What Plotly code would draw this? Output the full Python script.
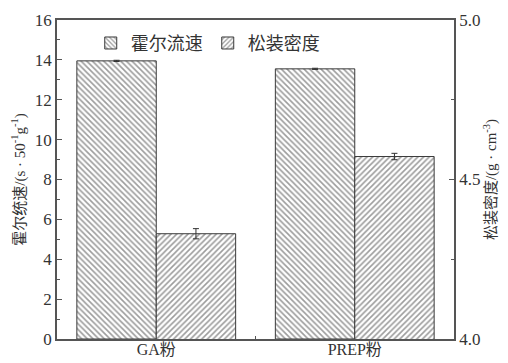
import plotly.graph_objects as go

# Powder types and measured values
powders = ["GA粉", "PREP粉"]
hall_flow = [13.95, 13.55]          # s·50^-1 g^-1
hall_flow_err = [0.03, 0.03]
apparent_density = [4.33, 4.572]     # g·cm^-3
apparent_density_err = [0.016, 0.01]

left_ticks = [0, 2, 4, 6, 8, 10, 12, 14, 16]
right_ticks = [4.0, 4.5, 5.0]

FONT = "Liberation Serif, Noto Sans CJK SC, serif"
INK = "#333333"
AXIS = "#555555"
HATCH = "#3a3a3a"

fig = go.Figure()

fig.add_trace(go.Bar(
    name="霍尔流速",
    x=powders, y=hall_flow,
    width=0.4, offset=-0.4,
    marker=dict(
        color="white",
        line=dict(color=HATCH, width=1),
        pattern=dict(shape="\\", fgcolor=HATCH, bgcolor="white",
                     size=4, solidity=0.4),
    ),
    error_y=dict(type="data", array=hall_flow_err, color=INK,
                 thickness=1, width=3),
))

fig.add_trace(go.Bar(
    name="松装密度",
    x=powders, y=apparent_density, yaxis="y2",
    width=0.4, offset=0.0,
    marker=dict(
        color="white",
        line=dict(color=HATCH, width=1),
        pattern=dict(shape="/", fgcolor=HATCH, bgcolor="white",
                     size=4, solidity=0.4),
    ),
    error_y=dict(type="data", array=apparent_density_err, color=INK,
                 thickness=1, width=3),
))

fig.update_layout(
    width=508, height=363,
    margin=dict(l=57, r=54, t=20, b=24),
    paper_bgcolor="white", plot_bgcolor="white",
    font=dict(family=FONT, size=17, color=INK),
    showlegend=True,
    legend=dict(
        orientation="h", x=0.085, y=0.985, xanchor="left", yanchor="top",
        bgcolor="rgba(0,0,0,0)", font=dict(size=18, color=INK),
        itemwidth=30, tracegroupgap=0,
    ),
    xaxis=dict(
        range=[-0.5, 1.5], automargin=False,
        showline=True, linecolor=AXIS, linewidth=1.5, mirror=True,
        ticks="inside", tickson="boundaries", ticklen=3, tickcolor=AXIS,
        showgrid=False, ticklabelstandoff=-5,
        tickfont=dict(size=16, color=INK),
    ),
    yaxis=dict(
        range=[0, 16], tickvals=left_ticks, automargin=False,
        showline=True, linecolor=AXIS, linewidth=1.5,
        ticks="inside", ticklen=5, tickcolor=AXIS,
        minor=dict(ticks="inside", ticklen=3, dtick=1, tickcolor=AXIS),
        showgrid=False, zeroline=False,
        tickfont=dict(size=17, color=INK),
        title=dict(text="霍尔统速/(s · 50<sup>-1</sup>g<sup>-1</sup>)",
                   font=dict(size=15, color=INK), standoff=6),
    ),
    yaxis2=dict(
        range=[4.0, 5.0], tickvals=right_ticks, tickformat=".1f",
        overlaying="y", side="right", automargin=False,
        showline=True, linecolor=AXIS, linewidth=1.5,
        ticks="inside", ticklen=5, tickcolor=AXIS,
        minor=dict(ticks="inside", ticklen=3, dtick=0.25, tickcolor=AXIS),
        showgrid=False, zeroline=False,
        tickfont=dict(size=17, color=INK),
        title=dict(text="松装密度/(g · cm<sup>-3</sup>)",
                   font=dict(size=15, color=INK), standoff=6),
    ),
    bargap=0.2,
)

fig.write_html("out.html")
